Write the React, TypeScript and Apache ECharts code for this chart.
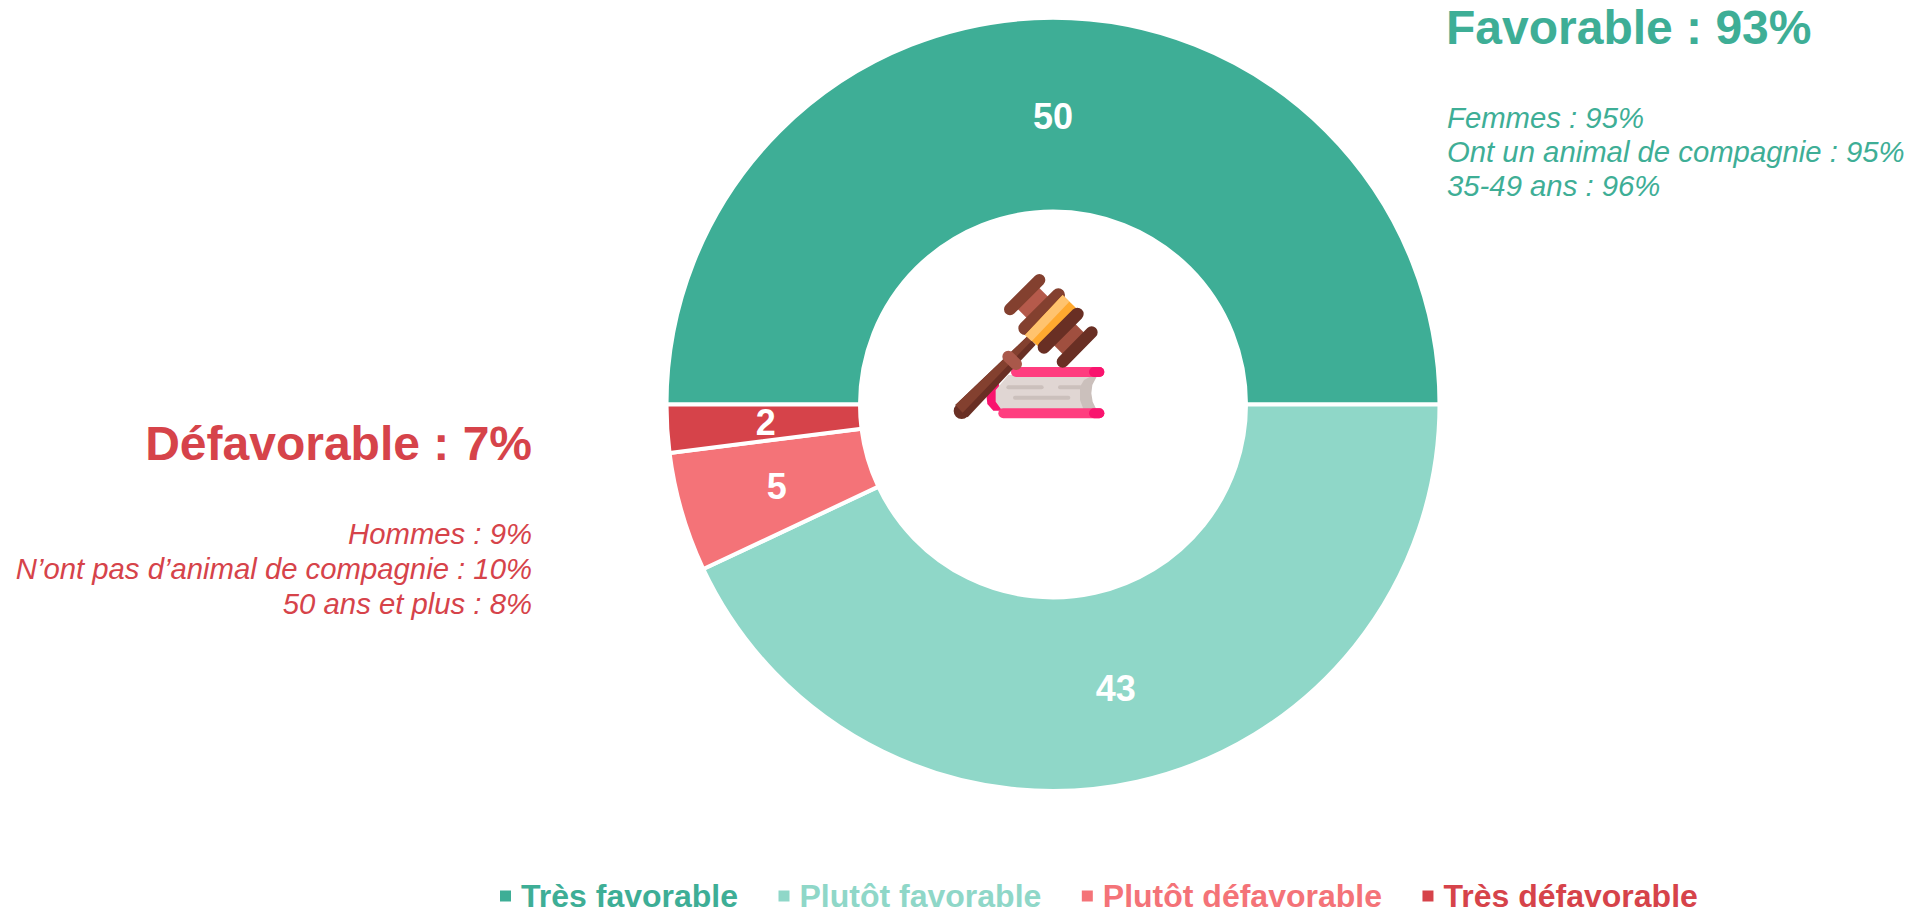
import React, { useEffect, useRef } from "react";
import * as echarts from "echarts";

const categories = ["Très favorable", "Plutôt favorable", "Plutôt défavorable", "Très défavorable"];
const values = [50, 43, 5, 2];
const colors = ["#3EAE96", "#8FD7C8", "#F47378", "#D6434A"];
const labelOffsets = [[0, 5], [-1, -2], [5, 0], [5, 0]];
const favorableTitle = "Favorable : 93%";
const favorableLines = ["Femmes : 95%", "Ont un animal de compagnie : 95%", "35-49 ans : 96%"];
const defavorableTitle = "Défavorable : 7%";
const defavorableLines = ["Hommes : 9%", "N’ont pas d’animal de compagnie : 10%", "50 ans et plus : 8%"];

const FONT = "'Liberation Sans', Arial, sans-serif";
const zx = (x: number) => 930 + x / 3;
const zy = (y: number) => 250 + y / 3;

const bar = (x1: number, y1: number, x2: number, y2: number, w: number, c: string) => ({
  type: "line",
  silent: true,
  shape: { x1: zx(x1), y1: zy(y1), x2: zx(x2), y2: zy(y2) },
  style: { stroke: c, lineWidth: w / 3, lineCap: "round" },
});
const poly = (pts: number[][], c: string) => ({
  type: "polygon",
  silent: true,
  shape: { points: pts.map(([x, y]) => [zx(x), zy(y)]) },
  style: { fill: c },
});

const gavelIcon = [
  // book
  poly([[168, 425], [205, 395], [225, 482], [190, 482], [172, 462]], "#F9146E"),
  poly([[197, 420], [235, 375], [490, 375], [462, 420], [462, 445], [495, 480], [215, 480], [197, 455]], "#E0D6D3"),
  poly([[490, 375], [500, 380], [487, 405], [484, 430], [488, 455], [500, 480], [495, 482], [462, 482], [450, 450], [450, 410], [462, 390]], "#CBC0BC"),
  bar(235, 412, 335, 412, 12, "#CBC0BC"),
  bar(390, 412, 450, 412, 12, "#CBC0BC"),
  bar(255, 443, 415, 443, 12, "#CBC0BC"),
  bar(258, 366, 508, 366, 30, "#FF3D7F"),
  bar(492, 366, 508, 366, 30, "#F9146E"),
  bar(220, 490, 508, 490, 30, "#FF3D7F"),
  bar(492, 490, 508, 490, 30, "#F9146E"),
  // handle
  bar(95, 483, 100, 478, 48, "#692F24"),
  poly([[76, 465], [293, 258], [317, 284], [113, 502]], "#692F24"),
  poly([[76, 465], [293, 258], [305, 272], [98, 488]], "#83402F"),
  bar(235, 320, 258, 342, 36, "#A9584A"),
  // head
  poly([[252, 166], [316, 102], [367, 153], [303, 217]], "#B55A4B"),
  poly([[360, 274], [424, 210], [473, 259], [409, 323]], "#A04F3F"),
  bar(240, 178, 328, 90, 36, "#83402F"),
  bar(285, 235, 385, 135, 40, "#83402F"),
  poly([[285, 255], [398, 135], [442, 178], [328, 292]], "#FFA92F"),
  poly([[285, 255], [398, 135], [418, 155], [305, 274]], "#FFC36E"),
  bar(342, 292, 442, 192, 38, "#692F24"),
  bar(398, 335, 485, 247, 36, "#692F24"),
];

const textEl = (text: string, x: number, y: number, size: number, color: string, align: string, bold: boolean) => ({
  type: "text",
  silent: true,
  x,
  y,
  style: {
    text,
    fill: color,
    align,
    verticalAlign: "middle",
    fontFamily: FONT,
    fontSize: size,
    fontWeight: bold ? "bold" : "normal",
    fontStyle: bold ? "normal" : "italic",
  },
});

export default function App() {
  const ref = useRef<HTMLDivElement>(null);
  useEffect(() => {
    const chart = echarts.init(ref.current!, undefined, { renderer: "svg" });
    chart.setOption({
      animation: false,
      legend: {
        show: true,
        left: 498,
        top: 880,
        padding: 0,
        icon: "rect",
        itemWidth: 13,
        itemHeight: 13,
        itemGap: 38.5,
        selectedMode: false,
        data: categories.map((name, i) => ({
          name,
          textStyle: {
            color: colors[i],
            fontFamily: FONT,
            fontSize: 32,
            lineHeight: 28,
            fontWeight: "bold",
            padding: [0, 0, 0, 4],
          },
        })),
      },
      series: [
        {
          type: "pie",
          center: [1053, 404.5],
          radius: [193, 386.5],
          startAngle: 180,
          clockwise: true,
          silent: true,
          itemStyle: { borderColor: "#FFFFFF", borderWidth: 4 },
          label: {
            show: true,
            position: "inside",
            formatter: "{c}",
            color: "#FFFFFF",
            fontFamily: FONT,
            fontSize: 36,
            fontWeight: "bold",
          },
          labelLine: { show: false },
          data: categories.map((name, i) => ({
            name,
            value: values[i],
            itemStyle: { color: colors[i] },
            label: { offset: labelOffsets[i] },
          })),
        },
      ],
      graphic: [
        textEl(favorableTitle, 1446, 27, 48, colors[0], "left", true),
        ...favorableLines.map((t, i) => textEl(t, 1447, 117 + i * 34, 29.3, colors[0], "left", false)),
        textEl(defavorableTitle, 532, 443, 48, colors[3], "right", true),
        ...defavorableLines.map((t, i) => textEl(t, 532, 533 + i * 35, 29.3, colors[3], "right", false)),
        ...gavelIcon,
      ],
    });
    return () => chart.dispose();
  }, []);
  return <div ref={ref} style={{ position: "absolute", left: 0, top: 0, width: 1913, height: 910 }} />;
}
